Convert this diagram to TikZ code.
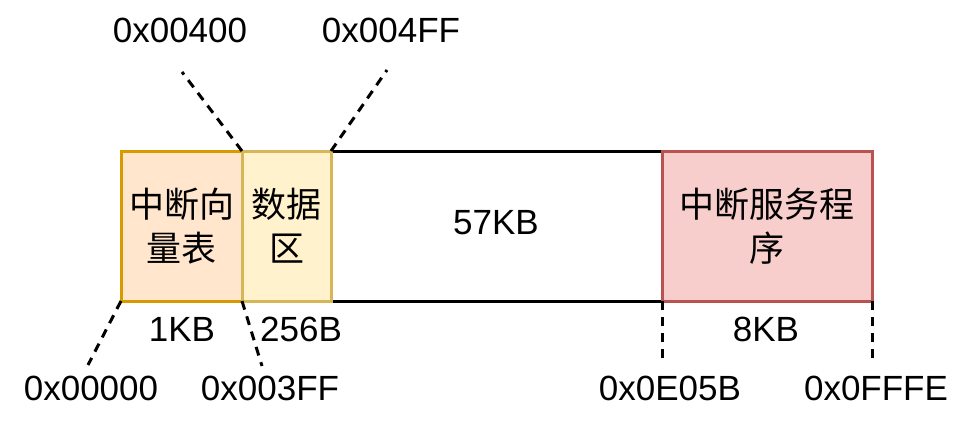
\documentclass[tikz,border=0pt]{standalone}
\usepackage{fontspec}
\setmainfont{Liberation Sans}
\newfontfamily\cjk{Noto Sans CJK SC}
\begin{document}
\begin{tikzpicture}[x=1pt,y=-1pt,
  lbl/.style={font=\fontsize{35}{44}\selectfont, inner sep=0pt, align=center},
  cjklbl/.style={font=\cjk\fontsize{35}{44}\selectfont, inner sep=0pt, align=center},
  blk/.style={line width=3pt},
  dsh/.style={line width=3pt, dash pattern=on 9pt off 7pt}]
\definecolor{orfill}{HTML}{FFE6CC}\definecolor{ordraw}{HTML}{D79B00}
\definecolor{yefill}{HTML}{FFF2CC}\definecolor{yedraw}{HTML}{D6B656}
\definecolor{refill}{HTML}{F8CECC}\definecolor{redraw}{HTML}{B85450}
\useasboundingbox (0,0) rectangle (969,423);
\fill[white] (0,0) rectangle (969,423);
% boxes
\filldraw[blk, fill=white, draw=black] (331,151) rectangle (662,301);
\filldraw[blk, fill=refill, draw=redraw] (662,151) rectangle (872,301);
\filldraw[blk, fill=orfill, draw=ordraw] (121,151) rectangle (242,301);
\filldraw[blk, fill=yefill, draw=yedraw] (242,151) rectangle (331,301);
\coordinate (b1tl) at (121,151); \coordinate (b1bl) at (121,301);
\coordinate (b2tl) at (242,151); \coordinate (b2bl) at (242,301);
\coordinate (b3tl) at (331,151);
\coordinate (b4bl) at (662,301); \coordinate (b4br) at (872,301);
% box texts
\node[cjklbl] (t1) at (181.5,226) {中断向\\量表};
\node[cjklbl] (t2) at (286.5,226) {数据\\区};
\node[lbl] (t3) at (496,223) {57KB};
\node[cjklbl] (t4) at (767,226) {中断服务程\\序};
% size labels
\node[lbl] (s1) at (182,329) {1KB};
\node[lbl] (s2) at (301,329) {256B};
\node[lbl] (s4) at (766,329) {8KB};
% address labels
\node[lbl] (a1) at (180,30) {0x00400};
\node[lbl] (a2) at (391,30) {0x004FF};
\node[lbl] (a3) at (91,388) {0x00000};
\node[lbl] (a4) at (270,388) {0x003FF};
\node[lbl] (a5) at (670,388) {0x0E05B};
\node[lbl] (a6) at (876,388) {0x0FFFE};
% dashed pointers
\coordinate (p1) at (182,72); \coordinate (p2) at (387,70);
\coordinate (p3) at (88,365); \coordinate (p4) at (262,366);
\coordinate (p5) at (662,362); \coordinate (p6) at (872,358);
\draw[dsh] (b2tl) -- (p1);
\draw[dsh] (b3tl) -- (p2);
\draw[dsh] (b1bl) -- (p3);
\draw[dsh] (b2bl) -- (p4);
\draw[dsh] (b4bl) -- (p5);
\draw[dsh] (b4br) -- (p6);
\end{tikzpicture}
\end{document}
